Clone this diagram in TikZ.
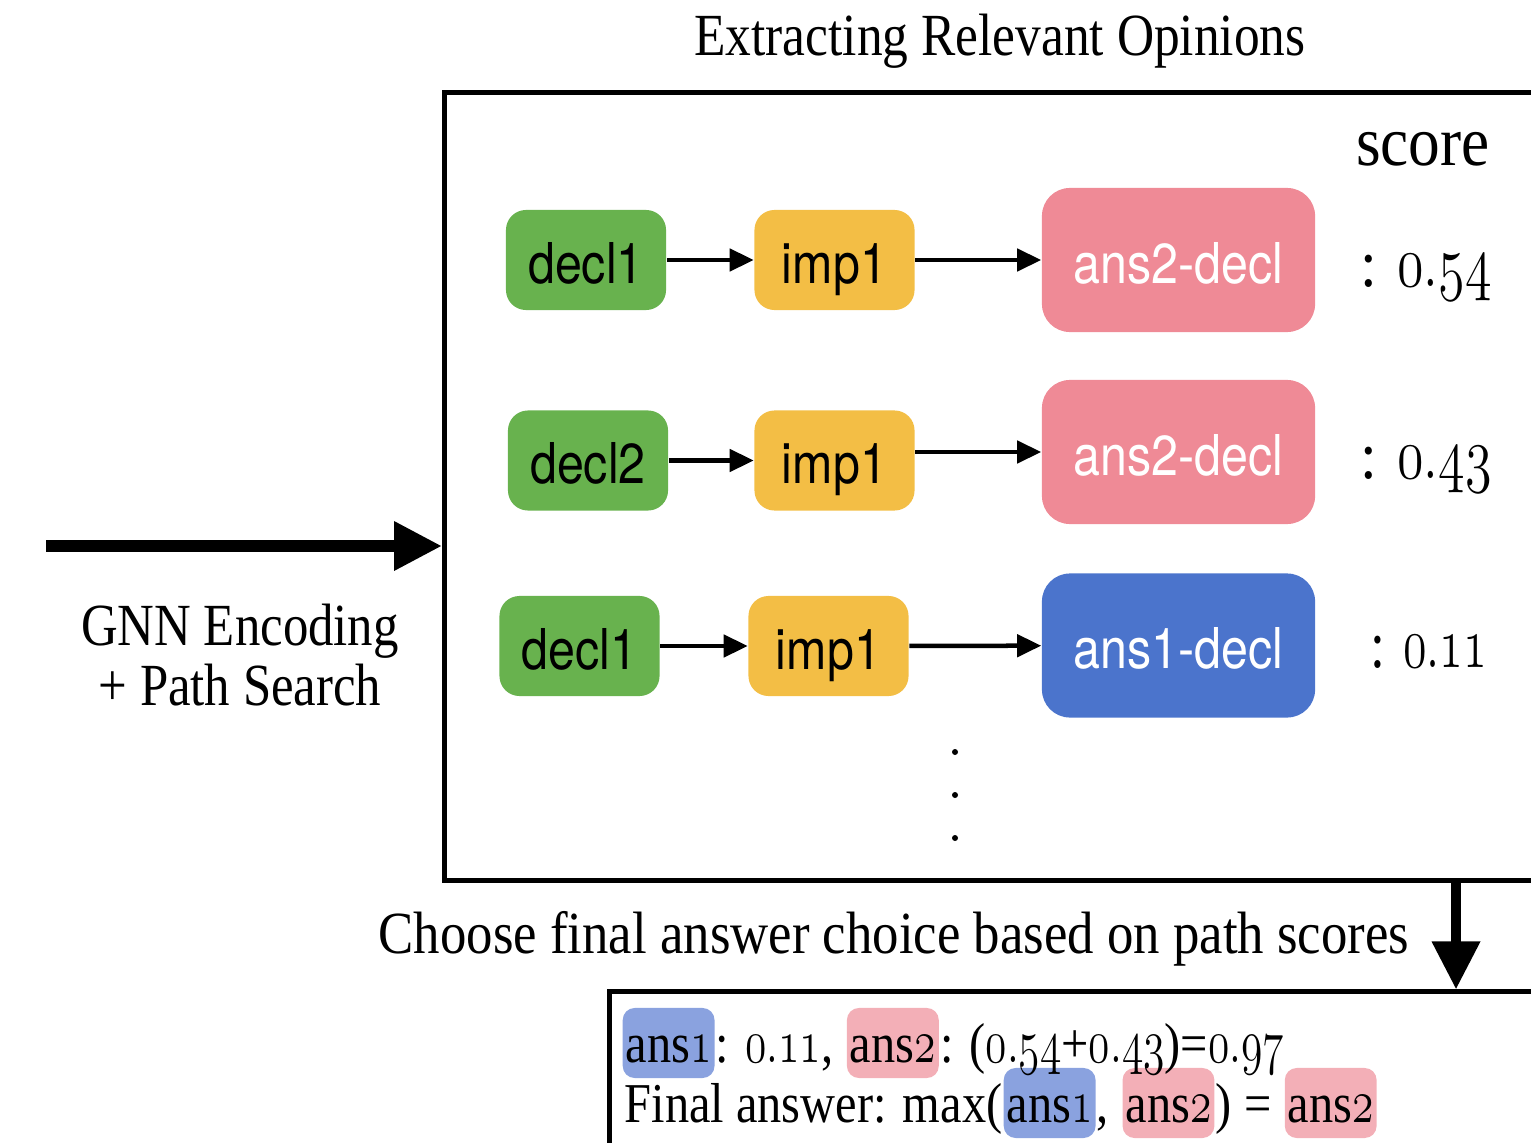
\documentclass[tikz,border=0pt]{standalone}
\usepackage{fix-cm}
\usepackage{fontspec}
\usepackage{graphicx}
\setmainfont{Liberation Serif}
\newfontfamily\heros{TeX Gyre Heros}
\usetikzlibrary{arrows.meta}

\definecolor{declgreen}{HTML}{68B24E}
\definecolor{impyellow}{HTML}{F3BE45}
\definecolor{anspink}{HTML}{EF8A96}
\definecolor{ansblue}{HTML}{4B74CC}
\definecolor{hlblue}{HTML}{8AA2DF}
\definecolor{hlpink}{HTML}{F3AFB7}

% old-style figures taken from the math italic font, a little taller and narrower
\newcommand\osn[1]{\scalebox{0.9}[1.1]{\(\mathnormal{#1}\)}}
% horizontally condensed text
\newcommand\sqz[2]{\scalebox{#1}[1]{#2}}

\begin{document}
\begin{tikzpicture}[x=0.01cm,y=-0.01cm,
  chip/.style={rounded corners=0.2cm, minimum width=1.6cm, minimum height=1cm,
    inner sep=0pt, text height=0.5cm, text depth=0.04cm,
    font=\heros\fontsize{16}{18}\selectfont},
  decl/.style={chip, fill=declgreen},
  imp/.style={chip, fill=impyellow},
  ansp/.style={chip, fill=anspink, text=white, minimum width=2.73cm,
    minimum height=1.44cm, rounded corners=0.28cm},
  ansb/.style={ansp, fill=ansblue},
  link/.style={-{Triangle[length=0.24cm,width=0.22cm]}, line width=0.045cm},
  frame/.style={draw, line width=0.05cm, inner sep=0pt},
  bigarrow/.style={-{Triangle[length=0.48cm,width=0.46cm]}, line width=0.12cm},
  droparrow/.style={-{Triangle[length=0.48cm,width=0.46cm]}, line width=0.1cm},
  label/.style={inner sep=0pt, font=\fontsize{17}{20}\selectfont},
  scoretxt/.style={inner sep=0pt, anchor=base west, font=\fontsize{19}{22}\selectfont},
  seg/.style={inner sep=0pt, anchor=base west, font=\fontsize{16}{19}\selectfont},
  hlb/.style={seg, fill=hlblue, rounded corners=0.12cm, inner xsep=0.03cm,
    inner ysep=0pt, text height=0.54cm, text depth=0.16cm},
  hlp/.style={hlb, fill=hlpink},
]
\useasboundingbox (0,0) rectangle (1531,1143);

% outer panels
\node[frame, minimum width=11.15cm, minimum height=7.87cm] (panel) at (1002.5,486.5) {};
\node[frame, minimum width=9.5cm, minimum height=1.88cm] (result) at (1085,1086) {};

% captions
\node[label, anchor=base] (title) at (1000,56) {\sqz{0.86}{Extracting Relevant Opinions}};
\node[label, anchor=base, font=\fontsize{20}{23}\selectfont] (scorehead) at (1423,166) {\sqz{0.9}{score}};
\node[label, anchor=base] (gnn1) at (240,645) {\sqz{0.85}{GNN Encoding}};
\node[label, anchor=base] (gnn2) at (240,705) {\sqz{0.85}{+ Path Search}};
\node[label, anchor=base west] (choose) at (378,953) {\sqz{0.883}{Choose final answer choice based on path scores}};

% path 1
\node[decl] (d1) at (586,260) {\sqz{0.86}{decl1}};
\node[imp]  (i1) at (834.5,260) {\sqz{0.86}{imp1}};
\node[ansp] (a1) at (1178.5,260) {\sqz{0.86}{ans2-decl}};
\node[scoretxt] (s1) at (1360,287) {\sqz{0.9}{: \osn{0.54}}};
\draw[link] (d1) -- (i1);
\draw[link] (i1) -- (a1);

% path 2
\node[decl] (d2) at (588,460.5) {\sqz{0.86}{decl2}};
\node[imp]  (i2) at (834.5,460.5) {\sqz{0.86}{imp1}};
\node[ansp] (a2) at (1178.5,452) {\sqz{0.86}{ans2-decl}};
\node[scoretxt] (s2) at (1360,478) {\sqz{0.9}{: \osn{0.43}}};
\draw[link] (d2) -- (i2);
\draw[link] (i2.east |- a2.west) -- (a2.west);

% path 3
\node[decl] (d3) at (579.5,646) {\sqz{0.86}{decl1}};
\node[imp]  (i3) at (828.5,646) {\sqz{0.86}{imp1}};
\node[ansb] (a3) at (1178.5,645.5) {\sqz{0.86}{ans1-decl}};
\node[scoretxt] (s3) at (1370,667) {\sqz{0.8}{: \osn{0.11}}};
\draw[link] (d3) -- (i3);
\draw[link] (i3) -- (a3);

% more paths
\foreach \yy in {752,795,838} \fill (955,\yy) circle (0.03cm);

% flow arrows
\coordinate (src) at (46,546);
\draw[bigarrow] (src) -- (src -| panel.west);
\coordinate (drop) at (1456,0);
\draw[droparrow] (panel.south -| drop) -- (result.north -| drop);

% final answer, second line
\node[seg] (f1) at (624,1122) {\sqz{0.86}{Final answer: max(}};
\node[hlb] (f2) at (f1.base east) {\sqz{0.86}{ans\osn{1}}};
\node[seg] (f3) at (f2.base east) {\sqz{0.86}{, }};
\node[hlp] (f4) at (f3.base east) {\sqz{0.86}{ans\osn{2}}};
\node[seg] (f5) at (f4.base east) {\sqz{0.86}{) = }};
\node[hlp] (f6) at (f5.base east) {\sqz{0.86}{ans\osn{2}}};

% final answer, first line
\node[hlb] (e1) at (622,1062) {\sqz{0.86}{ans\osn{1}}};
\node[seg] (e2) at (e1.base east) {\sqz{0.86}{: \osn{0.11}, }};
\node[hlp] (e3) at (e2.base east) {\sqz{0.86}{ans\osn{2}}};
\node[seg] (e4) at (e3.base east) {\sqz{0.86}{: (\osn{0.54}+\osn{0.43})=\osn{0.97}}};
\end{tikzpicture}
\end{document}
